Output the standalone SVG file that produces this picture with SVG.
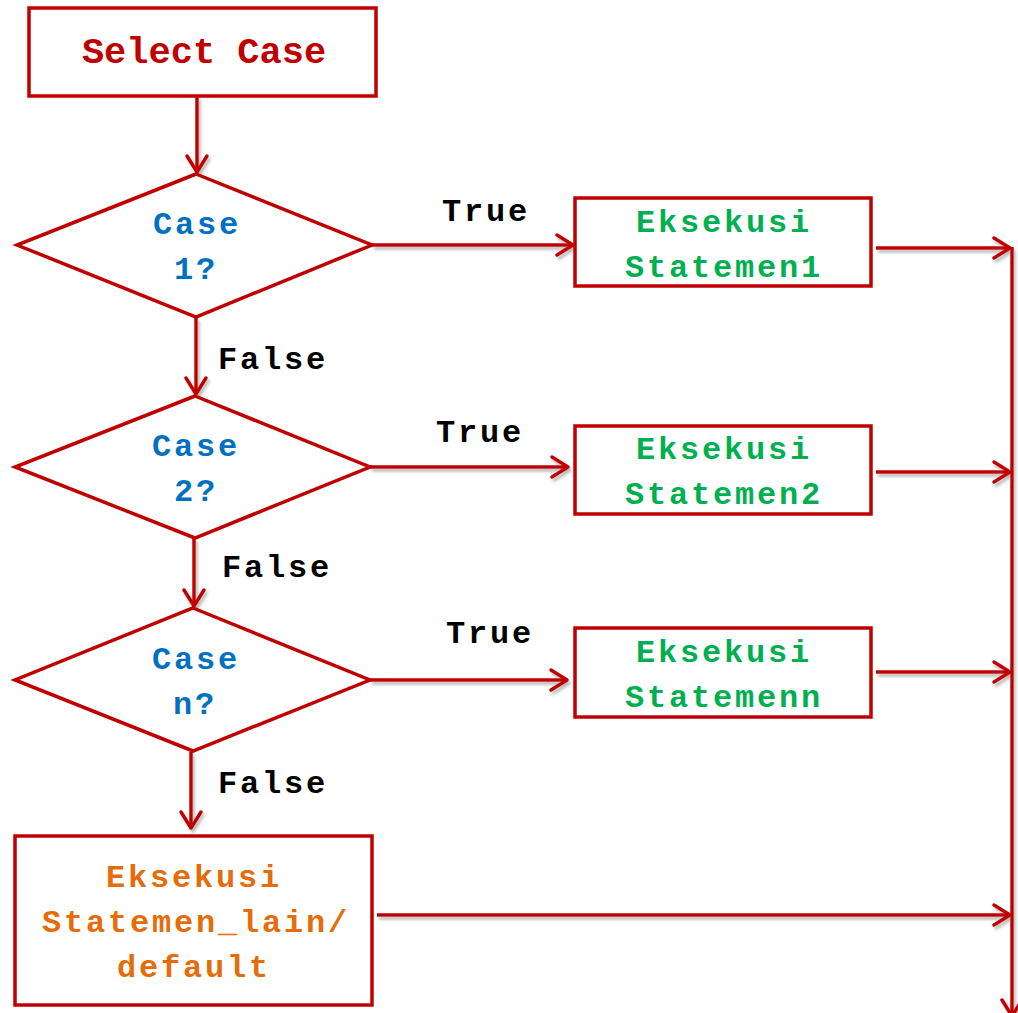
<svg xmlns="http://www.w3.org/2000/svg" width="1018" height="1013" viewBox="0 0 1018 1013">
<defs>
<marker id="arr" markerUnits="userSpaceOnUse" viewBox="-20 -14 24 28" markerWidth="24" markerHeight="28" refX="0" refY="0" orient="auto">
<path d="M-16,-10 L0,0 L-16,10" fill="none" stroke="#C00000" stroke-width="3.5" stroke-linecap="round" stroke-linejoin="round"/>
</marker>
<filter id="sh" x="-5%" y="-50%" width="110%" height="200%">
<feDropShadow dx="2" dy="3" stdDeviation="1.8" flood-color="#808080" flood-opacity="0.55"/>
</filter>
</defs>
<style>
.box{fill:#fff;stroke:#C00000;stroke-width:3.5}
.con{fill:none;stroke:#C00000;stroke-width:3.5;marker-end:url(#arr)}
.t{font-family:"Liberation Mono","Courier New",monospace;font-weight:bold;font-size:32px;letter-spacing:2.8px;text-anchor:middle}
.blue{fill:#0070C0}
.green{fill:#00B050}
.orange{fill:#E46C0A}
.red{fill:#C00000}
.blk{fill:#000}
</style>
<rect width="1018" height="1013" fill="#fff"/>
<g id="connectors" filter="url(#sh)">
<line class="con" x1="197" y1="97" x2="197" y2="172"/>
<line class="con" x1="372" y1="245" x2="573" y2="245"/>
<line class="con" x1="196" y1="318" x2="196" y2="394"/>
<line class="con" x1="370" y1="467" x2="568" y2="467"/>
<line class="con" x1="194" y1="538" x2="194" y2="606"/>
<line class="con" x1="370" y1="680" x2="567" y2="680"/>
<line class="con" x1="191" y1="752" x2="191" y2="828"/>
<line class="con" x1="876" y1="248" x2="1010" y2="248"/>
<line class="con" x1="876" y1="472" x2="1010" y2="472"/>
<line class="con" x1="876" y1="672" x2="1010" y2="672"/>
<line class="con" x1="377" y1="915" x2="1010" y2="915"/>
<line class="con" x1="1012" y1="247" x2="1012" y2="1016"/>
</g>
<g id="labels">
<text class="t blk" x="486" y="221">True</text>
<text class="t blk" x="480" y="442">True</text>
<text class="t blk" x="490" y="643">True</text>
<text class="t blk" x="273" y="369">False</text>
<text class="t blk" x="277" y="577">False</text>
<text class="t blk" x="273" y="793">False</text>
</g>
<g id="select-case">
<rect class="box" x="29" y="8" width="347" height="88"/>
<text class="t red" x="204" y="63" style="font-size:37px;letter-spacing:0px">Select Case</text>
</g>
<g id="case1">
<polygon class="box" points="196,174 372,245 196,317 17,245"/>
<text class="t blue" x="197" y="234">Case</text>
<text class="t blue" x="196" y="279">1?</text>
</g>
<g id="case2">
<polygon class="box" points="195,396 370,467 195,538 15,467"/>
<text class="t blue" x="196" y="456">Case</text>
<text class="t blue" x="196" y="501">2?</text>
</g>
<g id="casen">
<polygon class="box" points="193,608 370,680 193,751 15,680"/>
<text class="t blue" x="196" y="669">Case</text>
<text class="t blue" x="195" y="714">n?</text>
</g>
<g id="stmt1">
<rect class="box" x="575" y="198" width="296" height="88"/>
<text class="t green" x="724" y="232">Eksekusi</text>
<text class="t green" x="724" y="277">Statemen1</text>
</g>
<g id="stmt2">
<rect class="box" x="575" y="426" width="296" height="88"/>
<text class="t green" x="724" y="459">Eksekusi</text>
<text class="t green" x="724" y="504">Statemen2</text>
</g>
<g id="stmtn">
<rect class="box" x="575" y="628" width="296" height="89"/>
<text class="t green" x="724" y="662">Eksekusi</text>
<text class="t green" x="724" y="707">Statemenn</text>
</g>
<g id="default">
<rect class="box" x="15" y="836" width="357" height="169"/>
<text class="t orange" x="194" y="887">Eksekusi</text>
<text class="t orange" x="196" y="932">Statemen_lain/</text>
<text class="t orange" x="194" y="977">default</text>
</g>
</svg>
